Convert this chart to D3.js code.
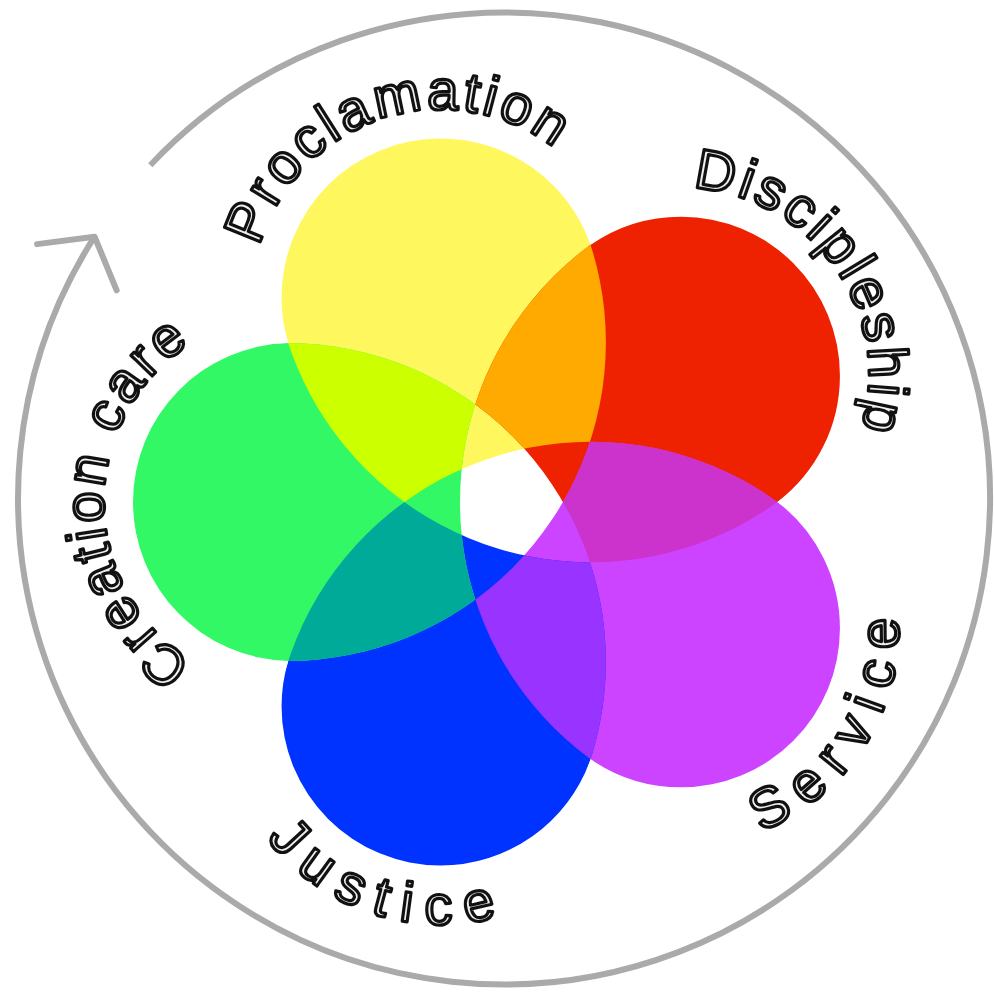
<!DOCTYPE html>
<html><head><meta charset="utf-8">
<script src="https://cdn.jsdelivr.net/npm/d3@7"></script>
<style>html,body{margin:0;padding:0;background:#fff;} svg{display:block}</style>
</head><body>
<svg id="chart" width="994" height="1000"></svg>
<script>
// ---- data ----
const labels = ["Proclamation", "Discipleship", "Service", "Justice", "Creation care"];
const petalColors = ["#FFF75E", "#EE2200", "#CC44FF", "#0033FF", "#33F866"];
// overlap of petal i with petal i+1
const overlapColors = ["#FFAA00", "#CC33CC", "#9933FF", "#00AA99", "#CCFF00"];

// ---- layout ----
const W = 994, H = 1000;
const cx = 507, cy = 502;           // centre of the flower
const dS = 215, rS = 159;           // petal circles
const gap = 47;                     // half size of white centre
const ringCx = 504, ringCy = 498.5, ringR = 486;
const ringStart = 223.3, ringEnd = 212.6 + 360;
const fontSize = 56;
const labelShift = [0, 1.5, -5, -1, 0]; // degrees, fine placement of labels

const n = labels.length;
const rad = d => d * Math.PI / 180;
const angle = d3.scaleLinear().domain([0, n]).range([252, 252 + 360]);
const step = 360 / n;
const half = dS * Math.sin(rad(step / 2));
const Ro = dS * Math.cos(rad(step / 2)) + Math.sqrt(rS * rS - half * half);
const dK = (Ro * Ro - gap * gap) / (2 * (Ro * Math.cos(rad(step)) + gap));
const rK = dK + gap;

const svg = d3.select("#chart");
const defs = svg.append("defs");
const circ = (x, y, r) => `M${x - r},${y}a${r},${r} 0 1,0 ${2 * r},0a${r},${r} 0 1,0 ${-2 * r},0Z`;

const petals = labels.map((l, i) => {
  const a = angle(i);
  return {label: l, a, x: cx + dS * Math.cos(rad(a)), y: cy + dS * Math.sin(rad(a))};
});
const kCircles = d3.range(n).map(j => {
  const a = angle(j) + step / 2;
  return {x: cx + dK * Math.cos(rad(a)), y: cy + dK * Math.sin(rad(a))};
});

// outline clip: union of petal circles + centre disc
const outline = defs.append("clipPath").attr("id", "outline");
petals.forEach(p => outline.append("circle").attr("cx", p.x).attr("cy", p.y).attr("r", rS));
outline.append("circle").attr("cx", cx).attr("cy", cy).attr("r", 110);

kCircles.forEach((k, j) => {
  defs.append("clipPath").attr("id", "kin" + j)
    .append("circle").attr("cx", k.x).attr("cy", k.y).attr("r", rK);
  defs.append("clipPath").attr("id", "kout" + j)
    .append("path").attr("clip-rule", "evenodd")
    .attr("d", "M-3000,-3000H4000V4000H-3000Z" + circ(k.x, k.y, rK));
});

const mod = j => ((j % n) + n) % n;
function region(ins, outs, color) {
  let g = svg.append("g").attr("clip-path", "url(#outline)");
  ins.forEach(j => { g = g.append("g").attr("clip-path", `url(#kin${mod(j)})`); });
  outs.forEach(j => { g = g.append("g").attr("clip-path", `url(#kout${mod(j)})`); });
  g.append("rect").attr("x", 0).attr("y", 0).attr("width", W).attr("height", H).attr("fill", color);
}

petals.forEach((p, i) => region([i - 1, i], [i + 2], petalColors[i]));
petals.forEach((p, i) => region([i - 1, i, i + 1], [i + 2, i + 3], overlapColors[i]));

// ring with arrow
const rp = d3.path();
rp.arc(ringCx, ringCy, ringR, rad(ringStart), rad(ringEnd));
svg.append("path").attr("d", rp.toString()).attr("fill", "none")
  .attr("stroke", "#aaaaaa").attr("stroke-width", 6);
const tip = [ringCx + ringR * Math.cos(rad(ringEnd)), ringCy + ringR * Math.sin(rad(ringEnd))];
const back = Math.atan2(-Math.cos(rad(ringEnd)), Math.sin(rad(ringEnd)));
const armLen = 58;
const arm = da => [tip[0] + armLen * Math.cos(back + rad(da)), tip[1] + armLen * Math.sin(back + rad(da))];
svg.append("path").attr("d", d3.line()([arm(50), tip, arm(-55)]))
  .attr("fill", "none").attr("stroke", "#aaaaaa").attr("stroke-width", 6)
  .attr("stroke-linecap", "round").attr("stroke-linejoin", "round");

// labels
petals.forEach((p, i) => {
  const inward = Math.sin(rad(p.a)) > 0.2;
  const r = inward ? 218 : 188;
  const ls = inward ? 14 : 3.5;
  const c = p.a + labelShift[i];
  const a0 = c + 180;
  const sweep = inward ? 0 : 1;
  const s = [p.x + r * Math.cos(rad(a0)), p.y + r * Math.sin(rad(a0))];
  const m = [p.x + r * Math.cos(rad(c)), p.y + r * Math.sin(rad(c))];
  defs.append("path").attr("id", "lp" + i)
    .attr("d", `M${s}A${r},${r} 0 0,${sweep} ${m}A${r},${r} 0 0,${sweep} ${s}`);
  svg.append("text")
    .attr("font-family", "'Liberation Sans', Arial, sans-serif")
    .attr("font-size", fontSize)
    .attr("letter-spacing", ls)
    .attr("fill", "#eeeeee").attr("stroke", "#111").attr("stroke-width", 3.2)
    .attr("stroke-linejoin", "round")
    .append("textPath").attr("href", "#lp" + i)
    .attr("startOffset", "50%").attr("text-anchor", "middle")
    .attr("dx", ls / 2)
    .text(p.label);
});
</script>
</body></html>
